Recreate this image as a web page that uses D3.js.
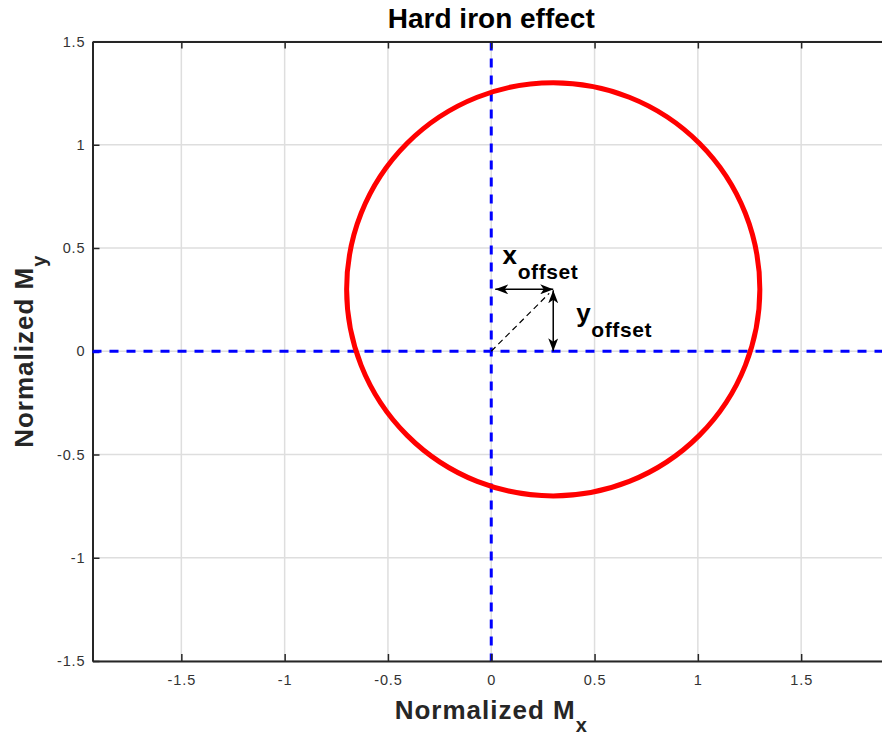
<!DOCTYPE html>
<html>
<head>
<meta charset="utf-8">
<script src="https://cdn.jsdelivr.net/npm/d3@7"></script>
<style>
  body { margin: 0; background: #fff; }
  text { font-family: "Liberation Sans", Arial, Helvetica, sans-serif; }
</style>
</head>
<body>
<div id="chart"></div>
<script>
// axis limits and ticks
const xLimits = [-1.93, 1.93];
const yLimits = [-1.5, 1.5];
const xTicks = [-1.5, -1, -0.5, 0, 0.5, 1, 1.5];
const yTicks = [-1.5, -1, -0.5, 0, 0.5, 1, 1.5];

// measured field: unit circle shifted by the hard iron offset
const circleCenter = [0.3, 0.3];
const circleRadius = [1];
const hardIronOffset = [0.3, 0.3];

const width = 882, height = 736;
const plot = { left: 92.5, top: 41.5, right: 890, bottom: 661 };

const svg = d3.select("#chart").append("svg")
    .attr("width", width)
    .attr("height", height);

svg.append("rect")
    .attr("width", width)
    .attr("height", height)
    .attr("fill", "white");

const x = d3.scaleLinear().domain(xLimits).range([plot.left, plot.right]);
const y = d3.scaleLinear().domain(yLimits).range([plot.bottom, plot.top]);

// grid
svg.append("g")
    .selectAll("line")
    .data(xTicks)
    .enter().append("line")
    .attr("x1", d => x(d)).attr("x2", d => x(d))
    .attr("y1", plot.top).attr("y2", plot.bottom)
    .attr("stroke", "#dedede")
    .attr("stroke-width", 1.5);

svg.append("g")
    .selectAll("line")
    .data(yTicks)
    .enter().append("line")
    .attr("x1", plot.left).attr("x2", plot.right)
    .attr("y1", d => y(d)).attr("y2", d => y(d))
    .attr("stroke", "#dedede")
    .attr("stroke-width", 1.5);

// origin lines
svg.append("line")
    .attr("x1", x(0)).attr("x2", x(0))
    .attr("y1", plot.top).attr("y2", plot.bottom)
    .attr("stroke", "#0000ff")
    .attr("stroke-width", 3)
    .attr("stroke-dasharray", "9,8");

svg.append("line")
    .attr("x1", plot.left).attr("x2", plot.right)
    .attr("y1", y(0)).attr("y2", y(0))
    .attr("stroke", "#0000ff")
    .attr("stroke-width", 3)
    .attr("stroke-dasharray", "9,8");

// the offset circle
svg.append("circle")
    .attr("cx", x(circleCenter[0]))
    .attr("cy", y(circleCenter[1]))
    .attr("r", x(circleRadius[0]) - x(0))
    .attr("fill", "none")
    .attr("stroke", "#ff0000")
    .attr("stroke-width", 5);

// arrowhead
svg.append("defs").append("marker")
    .attr("id", "head")
    .attr("viewBox", "0 -5 13 10")
    .attr("refX", 13)
    .attr("refY", 0)
    .attr("markerWidth", 13)
    .attr("markerHeight", 10)
    .attr("markerUnits", "userSpaceOnUse")
    .attr("orient", "auto-start-reverse")
    .append("path")
    .attr("d", "M0,-5L13,0L0,5L3.5,0Z")
    .attr("fill", "black");

const ox = hardIronOffset[0], oy = hardIronOffset[1];

// x offset arrow
svg.append("line")
    .attr("x1", x(0) + 4).attr("y1", y(oy))
    .attr("x2", x(ox)).attr("y2", y(oy))
    .attr("stroke", "black")
    .attr("stroke-width", 1.5)
    .attr("marker-start", "url(#head)")
    .attr("marker-end", "url(#head)");

// y offset arrow
svg.append("line")
    .attr("x1", x(ox)).attr("y1", y(oy) + 1)
    .attr("x2", x(ox)).attr("y2", y(0))
    .attr("stroke", "black")
    .attr("stroke-width", 1.5)
    .attr("marker-start", "url(#head)")
    .attr("marker-end", "url(#head)");

// diagonal from origin to the centre
svg.append("line")
    .attr("x1", x(0)).attr("y1", y(0))
    .attr("x2", x(ox) - 4).attr("y2", y(oy) + 4)
    .attr("stroke", "black")
    .attr("stroke-width", 1.2)
    .attr("stroke-dasharray", "6,4");

// labels with subscripts
function subLabel(g, main, sub, mainSize, subSize, dy) {
    const t = g.append("text")
        .attr("font-weight", "bold")
        .attr("fill", "#000");
    t.append("tspan").attr("font-size", mainSize).text(main);
    t.append("tspan").attr("font-size", subSize).attr("dy", dy).text(sub);
    return t;
}

subLabel(svg, "x", "offset", 26, 21, 15)
    .attr("x", x(0.055)).attr("y", y(oy) - 25)
    .attr("letter-spacing", 0.6);

subLabel(svg, "y", "offset", 26, 21, 15)
    .attr("x", x(ox) + 23).attr("y", y(oy) + 33)
    .attr("letter-spacing", 0.6);

// axes
const tickFmt = d => String(d);

const axisColor = "#262626";

const gx = svg.append("g")
    .attr("transform", `translate(0,${plot.bottom})`)
    .call(d3.axisBottom(x).tickValues(xTicks).tickFormat(tickFmt)
        .tickSizeInner(-7).tickSizeOuter(0).tickPadding(14));

const gxTop = svg.append("g")
    .attr("transform", `translate(0,${plot.top})`)
    .call(d3.axisTop(x).tickValues(xTicks).tickFormat("")
        .tickSizeInner(-7).tickSizeOuter(0));

const gy = svg.append("g")
    .attr("transform", `translate(${plot.left},0)`)
    .call(d3.axisLeft(y).tickValues(yTicks).tickFormat(tickFmt)
        .tickSizeInner(-7).tickSizeOuter(0).tickPadding(7));

[gx, gxTop, gy].forEach(g => {
    g.select(".domain").attr("stroke", axisColor).attr("stroke-width", 2);
    g.selectAll(".tick line").attr("stroke", axisColor).attr("stroke-width", 1.5);
    g.selectAll(".tick text")
        .attr("fill", "#333")
        .attr("font-size", 14.5)
        .attr("letter-spacing", 0.9)
        .style("font-family", "'Liberation Sans', Arial, sans-serif");
});

// blue origin tick on the left axis
gy.selectAll(".tick line").filter(d => d === 0).attr("stroke", "#0000ff").attr("stroke-width", 3);

// title
svg.append("text")
    .attr("x", (plot.left + plot.right) / 2)
    .attr("y", 28)
    .attr("text-anchor", "middle")
    .attr("font-size", 28)
    .attr("font-weight", "bold")
    .text("Hard iron effect");

// axis titles
subLabel(svg, "Normalized M", "x", 26, 20, 13)
    .attr("x", (plot.left + plot.right) / 2)
    .attr("y", 719)
    .attr("text-anchor", "middle")
    .attr("letter-spacing", 1)
    .attr("fill", "#262626");

subLabel(svg, "Normalized M", "y", 26, 20, 13)
    .attr("transform", `translate(33,${(plot.top + plot.bottom) / 2}) rotate(-90)`)
    .attr("text-anchor", "middle")
    .attr("letter-spacing", 1)
    .attr("fill", "#262626");
</script>
</body>
</html>
